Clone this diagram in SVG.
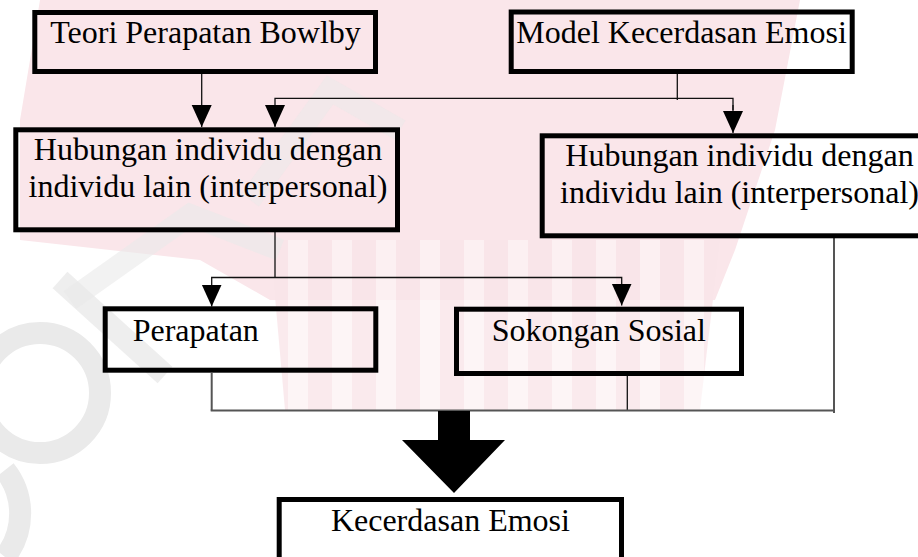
<svg xmlns="http://www.w3.org/2000/svg" width="918" height="557" viewBox="0 0 918 557">
  <style>
    .box { fill: none; stroke: #000; stroke-width: 5; }
    .lbl { font-family: "Liberation Serif", "Times New Roman", serif; font-size: 32px; fill: #000; }
    .c { text-anchor: middle; }
    .wire { fill: none; stroke: #111; stroke-width: 1.3; }
    .wire2 { fill: none; stroke: #555; stroke-width: 2; }
    .arr { fill: none; stroke: #111; stroke-width: 1.3; marker-end: url(#ah); }
    .wm { fill: none; stroke: #eaeaea; stroke-width: 22; }
  </style>
  <defs>
    <marker id="ah" markerUnits="userSpaceOnUse" markerWidth="24" markerHeight="22" viewBox="0 -11 24 22" refX="22" refY="0" orient="auto">
      <path d="M0,-10 L22,0 L0,10 z" fill="#000"/>
    </marker>
    <pattern id="stripes" patternUnits="userSpaceOnUse" width="44" height="10">
      <rect x="0" y="0" width="44" height="10" fill="#fcf2f4"/>
      <rect x="0" y="0" width="24" height="10" fill="#f9e5e9"/>
    </pattern>
  </defs>

  <rect x="0" y="0" width="918" height="557" fill="#fff"/>

  <g id="watermark">
    <polygon points="40,0 800,0 775,130 735,250 715,300 270,300 200,260 20,240 20,120" fill="#fae6ea"/>
    <polygon points="270,240 720,240 700,410 285,410" fill="url(#stripes)" opacity="0.8"/>
    <circle cx="40" cy="393" r="60" class="wm"/>
    <path d="M5,470 A70,70 0 0 1 5,557" class="wm"/>
    <path d="M60,280 L165,375" class="wm" opacity="0.8"/>
    <path d="M70,300 L190,215 L280,250" class="wm" opacity="0.6"/>
    <path d="M250,200 L330,90 L400,130" class="wm" opacity="0.5"/>
  </g>

  <g id="connectors">
    <line class="arr" x1="201.7" y1="74" x2="201.7" y2="127"/>
    <line class="wire" x1="677.3" y1="74" x2="677.3" y2="100"/>
    <polyline class="wire" points="275,126 275,98.3 733,98.3 733,110"/>
    <line class="arr" x1="275" y1="110" x2="275" y2="127"/>
    <line class="arr" x1="733" y1="105" x2="733" y2="133"/>
    <line class="wire" x1="275" y1="232" x2="275" y2="277.5"/>
    <polyline class="wire" points="211.7,290 211.7,277.5 621.7,277.5 621.7,290"/>
    <line class="arr" x1="211.7" y1="285" x2="211.7" y2="306.5"/>
    <line class="arr" x1="621.7" y1="285" x2="621.7" y2="305.5"/>
    <line class="wire2" x1="211.7" y1="373" x2="211.7" y2="410.5"/>
    <line class="wire" x1="627.3" y1="376" x2="627.3" y2="410.5"/>
    <line class="wire2" x1="834" y1="238" x2="834" y2="413"/>
    <line class="wire2" x1="210.7" y1="410.5" x2="835" y2="410.5"/>
    <polygon id="big-arrow" points="438,411 470,411 470,440 505,440 454,493 402,440 438,440" fill="#000"/>
  </g>

  <g id="n-bowlby">
    <rect class="box" x="34.8" y="12.5" width="340.7" height="59"/>
    <text class="lbl c" x="205.5" y="43">Teori Perapatan Bowlby</text>
  </g>
  <g id="n-model">
    <rect class="box" x="511.2" y="12" width="341" height="59.5"/>
    <text class="lbl c" x="681.5" y="43">Model Kecerdasan Emosi</text>
  </g>
  <g id="n-hubungan-left">
    <rect class="box" x="15.8" y="129.8" width="381.7" height="100"/>
    <text class="lbl c" x="208" y="160">Hubungan individu dengan</text>
    <text class="lbl c" x="208" y="197">individu lain (interpersonal)</text>
  </g>
  <g id="n-hubungan-right">
    <rect class="box" x="542.2" y="135.8" width="385" height="100"/>
    <text class="lbl c" x="739.5" y="166">Hubungan individu dengan</text>
    <text class="lbl c" x="739.5" y="203">individu lain (interpersonal)</text>
  </g>
  <g id="n-perapatan">
    <rect class="box" x="105.2" y="308.8" width="270.6" height="61.4"/>
    <text class="lbl" x="132.7" y="341">Perapatan</text>
  </g>
  <g id="n-sokongan">
    <rect class="box" x="456.5" y="309.2" width="285" height="64.3"/>
    <text class="lbl" x="491.7" y="340.5">Sokongan Sosial</text>
  </g>
  <g id="n-kecerdasan">
    <rect class="box" x="279.2" y="499.5" width="342.3" height="70"/>
    <text class="lbl c" x="450.4" y="531">Kecerdasan Emosi</text>
  </g>
</svg>
